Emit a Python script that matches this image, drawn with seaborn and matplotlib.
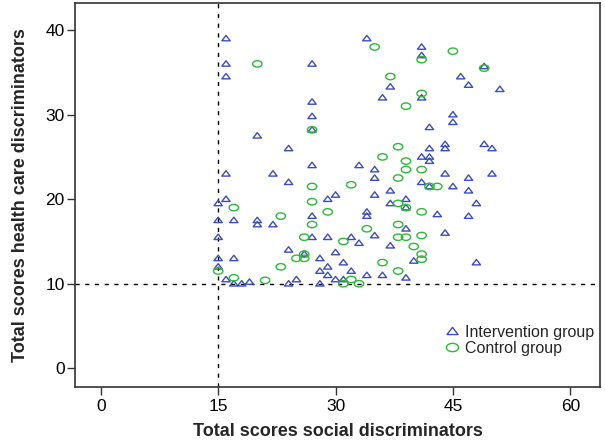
import numpy as np
import pandas as pd
import matplotlib
matplotlib.use("Agg")
from matplotlib import pyplot as plt
from matplotlib.path import Path
from matplotlib.lines import Line2D
import seaborn as sns

# intervention group (triangles)
interv_x = [16, 34, 41, 16, 27, 41, 49, 16, 46, 47, 37, 51, 36, 41, 27, 27, 45, 45, 27, 42,
            20, 49, 44, 24, 42, 44, 50, 41, 42, 42, 27, 33, 35, 16, 22, 44, 50, 35, 47, 24,
            41, 42, 45, 37, 47, 30, 35, 16, 29, 39, 15, 37, 48, 39, 34, 43, 27, 34, 47, 15,
            17, 20, 20, 22, 39, 44, 35, 15, 27, 29, 32, 33, 37, 24, 30, 26, 15, 17, 28, 40,
            31, 48, 15, 29, 28, 32, 29, 34, 36, 39, 16, 25, 30, 31, 19, 17, 18, 24, 28]
interv_y = [39, 39, 38, 36, 36, 37, 35.7, 34.5, 34.5, 33.5, 33.3, 33, 32, 32, 31.5, 29.8, 30, 29.1, 28.2, 28.5,
            27.5, 26.5, 26.5, 26, 26, 26, 26, 25, 25, 24.5, 24, 24, 23.5, 23, 23, 23, 23, 22.5, 22.5, 22,
            22, 21.5, 21.5, 21, 21, 20.5, 20.5, 20, 20, 20, 19.5, 19.5, 19.5, 19, 18.5, 18.2, 18, 18, 18, 17.5,
            17.5, 17.5, 17, 17, 16.5, 16, 15.7, 15.5, 15.5, 15.5, 15.5, 14.8, 14.5, 14, 13.7, 13.5, 13, 13, 13, 12.7,
            12.5, 12.5, 12, 12, 11.5, 11.5, 11, 11, 11, 10.7, 10.5, 10.5, 10.5, 10.5, 10.2, 10, 10, 10, 10]

# control group (circles)
ctrl_x = [35, 45, 41, 20, 49, 37, 41, 39, 27, 38, 36, 39, 39, 41, 38, 32, 27, 42, 43, 27,
          38, 39, 17, 41, 29, 23, 27, 38, 34, 41, 26, 38, 39, 31, 40, 26, 41, 25, 26, 41,
          36, 23, 15, 38, 17, 21, 32, 31, 33]
ctrl_y = [38, 37.5, 36.5, 36, 35.5, 34.5, 32.5, 31, 28.2, 26.2, 25, 24.5, 23.5, 23.5, 22.5, 21.7, 21.5, 21.5, 21.5, 19.7,
          19.5, 19, 19, 18.5, 18.5, 18, 17, 17, 16.5, 15.7, 15.5, 15.5, 15.5, 15, 14.4, 13.5, 13.5, 13, 13, 12.9,
          12.5, 12, 11.5, 11.5, 10.7, 10.4, 10.5, 10, 10]

x_ticks = [0, 15, 30, 45, 60]
y_ticks = [0, 10, 20, 30, 40]
groups = ["Intervention group", "Control group"]
colors = {"Intervention group": "#3c4fb4", "Control group": "#2fb83a"}

tri = Path([(-1, -0.55), (1, -0.55), (0, 0.75), (-1, -0.55)],
           [Path.MOVETO, Path.LINETO, Path.LINETO, Path.CLOSEPOLY])
circ = Path.unit_circle()
ell = Path(circ.vertices * np.array([1.0, 0.68]), circ.codes)
markers = {"Intervention group": tri, "Control group": ell}
sizes = {"Intervention group": 36, "Control group": 46}

df = pd.concat([
    pd.DataFrame({"x": interv_x, "y": interv_y, "group": groups[0]}),
    pd.DataFrame({"x": ctrl_x, "y": ctrl_y, "group": groups[1]}),
])

sns.set_style("white")
plt.rcParams["font.family"] = ["Liberation Sans", "DejaVu Sans"]

fig = plt.figure(figsize=(6.05, 4.4), dpi=100)
ax = fig.add_axes([75 / 605, 53.3 / 440, 525 / 605, 383.7 / 440])

ax.axvline(15, color="black", lw=1, ls=(0, (3, 4)), zorder=1)
ax.axhline(10, color="black", lw=1, ls=(0, (3, 4)), zorder=1)

for g in groups:
    sub = df[df["group"] == g]
    sns.scatterplot(data=sub, x="x", y="y", ax=ax, marker=markers[g], s=sizes[g],
                    color=colors[g], linewidth=1.0, legend=False, zorder=3)
    coll = ax.collections[-1]
    coll.set_facecolor("none")
    coll.set_edgecolor(colors[g])

ax.set_xlim(-3.3, 63.8)
ax.set_ylim(-2.18, 43.2)
ax.set_xticks(x_ticks)
ax.set_yticks(y_ticks)
ax.tick_params(axis="both", direction="out", length=5.5, width=1, labelsize=12.5,
               bottom=True, left=True, color="#333333", labelcolor="black")
ax.tick_params(axis="x", pad=3)
ax.tick_params(axis="y", pad=2)
for sp in ax.spines.values():
    sp.set_color("#333333")
    sp.set_linewidth(1.2)

ax.set_xlabel("Total scores social discriminators", fontsize=13, fontweight="bold", labelpad=7)
ax.set_ylabel("Total scores health care discriminators", fontsize=13, fontweight="bold", labelpad=12)

handles = [Line2D([], [], ls="none", marker=markers[g], markersize=np.sqrt(sizes[g]) + 2,
                  markerfacecolor="none", markeredgecolor=colors[g], markeredgewidth=1.0)
           for g in groups]
ax.legend(handles, groups, loc="upper left", bbox_to_anchor=(0.685, 0.182), frameon=False,
          fontsize=11.5, handletextpad=0.2, labelspacing=0.05, handlelength=1.2, borderpad=0)

fig.savefig("out.png", dpi=100)
